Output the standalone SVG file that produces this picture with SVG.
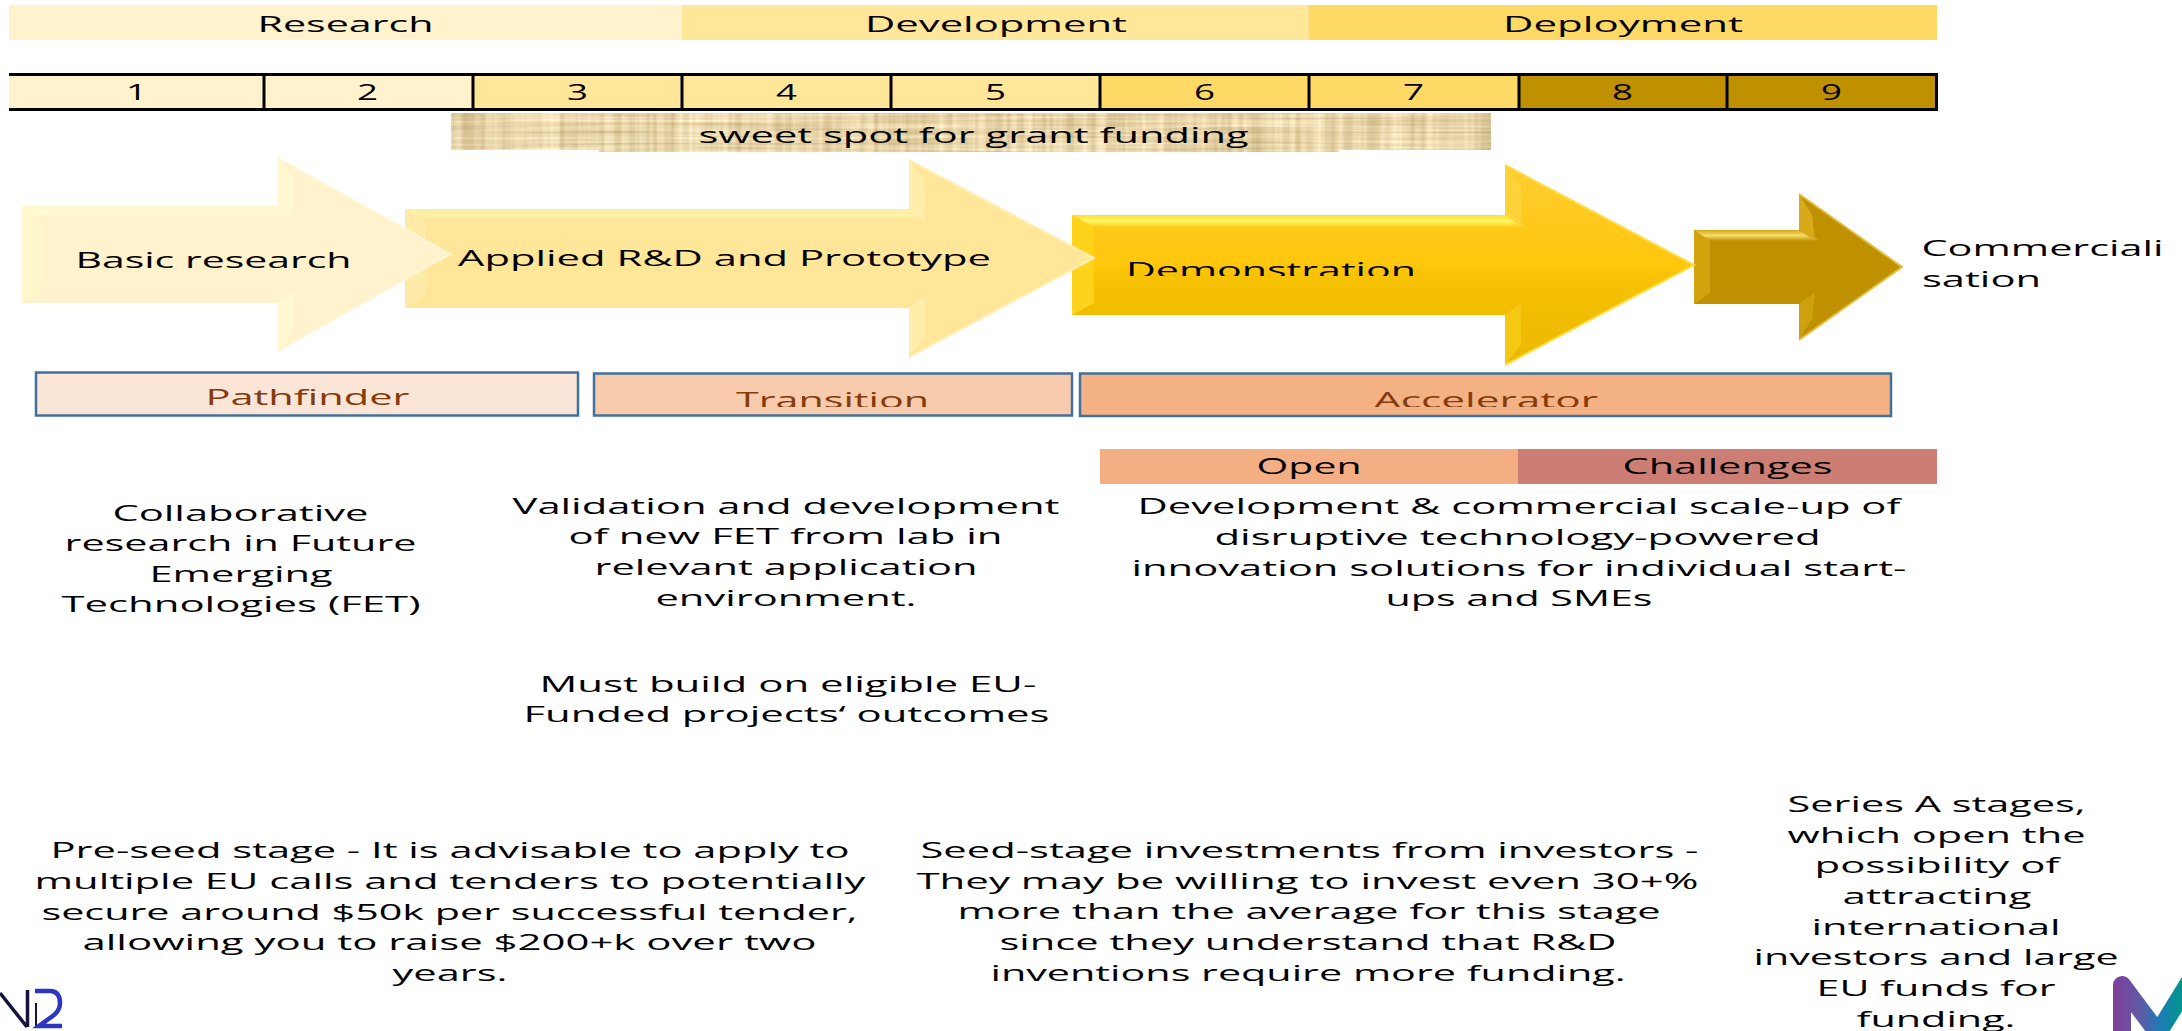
<svg xmlns="http://www.w3.org/2000/svg" width="2182" height="1031" viewBox="0 0 2182 1031">
<style>
text{font-family:"Open Sans","Noto Sans","Liberation Sans",sans-serif;font-size:21.5px;fill:#000}
.lb{fill:#843C0C;font-size:22.5px}
.c1{fill:#FFF2CC}.c2{fill:#FFE699}.c3{fill:#FFD966}.c4{fill:#BF9000}
.line{stroke:#000;stroke-width:3;fill:none}
.box{stroke:#41719C;stroke-width:2.5}
.e1{fill:none;stroke:#FFF6D8;stroke-width:2}
.e2{fill:none;stroke:#FFEFB4;stroke-width:2}
.e3{fill:none;stroke:#FFDD44;stroke-width:2}
.e4{fill:none;stroke:#E3BE3C;stroke-width:2}
</style>
<defs>
<filter id="papyrus" x="0" y="0" width="1" height="1" color-interpolation-filters="sRGB">
<feTurbulence type="fractalNoise" baseFrequency="0.14 0.004" numOctaves="2" seed="4" result="n1"/>
<feColorMatrix in="n1" values="1 0 0 0 0  1 0 0 0 0  1 0 0 0 0  0 0 0 0 1" result="v"/>
<feTurbulence type="fractalNoise" baseFrequency="0.006 0.35" numOctaves="2" seed="9" result="n2"/>
<feColorMatrix in="n2" values="1 0 0 0 0  1 0 0 0 0  1 0 0 0 0  0 0 0 0 1" result="h"/>
<feComposite in="v" in2="h" operator="arithmetic" k2="0.5" k3="0.5" result="m"/>
<feColorMatrix in="m" values="0.45 0 0 0 0.68  0.5 0 0 0 0.58  0.6 0 0 0 0.36  0 0 0 0 1"/>
<feComposite in2="SourceGraphic" operator="in"/>
</filter>
<linearGradient id="g3" x1="0" y1="0" x2="0" y2="1"><stop offset="0" stop-color="#FFCD33"/><stop offset="0.5" stop-color="#FFC70C"/><stop offset="0.55" stop-color="#F8C204"/><stop offset="1" stop-color="#E9B800"/></linearGradient>
<linearGradient id="t1" x1="0" y1="0" x2="0" y2="1"><stop offset="0" stop-color="#FFF5D0"/><stop offset="0.5" stop-color="#FFFBD2"/><stop offset="1" stop-color="#FFF2CC"/></linearGradient>
<linearGradient id="t2" x1="0" y1="0" x2="0" y2="1"><stop offset="0" stop-color="#FFEBA5"/><stop offset="0.5" stop-color="#FFF3A8"/><stop offset="1" stop-color="#FFE699"/></linearGradient>
<linearGradient id="t3" x1="0" y1="0" x2="0" y2="1"><stop offset="0" stop-color="#FFDB2E"/><stop offset="0.5" stop-color="#FFF868"/><stop offset="1" stop-color="#FFCE18"/></linearGradient>
<linearGradient id="t4" x1="0" y1="0" x2="0" y2="1"><stop offset="0" stop-color="#D5A715"/><stop offset="0.5" stop-color="#F5DC6C"/><stop offset="1" stop-color="#BF9000"/></linearGradient>
<linearGradient id="mg" gradientUnits="userSpaceOnUse" x1="2113" y1="0" x2="2182" y2="0"><stop offset="0" stop-color="#7F3F98"/><stop offset="0.4" stop-color="#5F5AA6"/><stop offset="0.7" stop-color="#1A7DB4"/><stop offset="1" stop-color="#009688"/></linearGradient>
<clipPath id="clipDemo"><rect x="1100" y="240" width="340" height="36"/></clipPath>
<clipPath id="clipBox"><rect x="700" y="380" width="920" height="27"/></clipPath>
</defs>

<g id="phase-research"><rect class="c1" x="9" y="5" width="673" height="35"/><text x="257.500" y="32" textLength="176" lengthAdjust="spacingAndGlyphs">Research</text></g>
<g id="phase-development"><rect class="c2" x="682" y="5" width="627" height="35"/><text x="865" y="32" textLength="262" lengthAdjust="spacingAndGlyphs">Development</text></g>
<g id="phase-deployment"><rect class="c3" x="1309" y="5" width="628" height="35"/><text x="1503" y="32" textLength="240" lengthAdjust="spacingAndGlyphs">Deployment</text></g>

<g id="trl-scale">
<rect class="c1" x="9" y="74" width="464" height="36"/>
<rect class="c2" x="473" y="74" width="627" height="36"/>
<rect class="c3" x="1100" y="74" width="419" height="36"/>
<rect class="c4" x="1519" y="74" width="418" height="36"/>
<path class="line" d="M9,74.500H1936.500V109.500H9M264,74V110M473,74V110M682,74V110M891,74V110M1100,74V110M1309,74V110M1519,74V110M1727,74V110"/>
<text x="126" y="100" textLength="21" lengthAdjust="spacingAndGlyphs">1</text>
<text x="357" y="100" textLength="21" lengthAdjust="spacingAndGlyphs">2</text>
<text x="567" y="100" textLength="21" lengthAdjust="spacingAndGlyphs">3</text>
<text x="776" y="100" textLength="21" lengthAdjust="spacingAndGlyphs">4</text>
<text x="985" y="100" textLength="21" lengthAdjust="spacingAndGlyphs">5</text>
<text x="1194" y="100" textLength="21" lengthAdjust="spacingAndGlyphs">6</text>
<text x="1403" y="100" textLength="21" lengthAdjust="spacingAndGlyphs">7</text>
<text x="1612" y="100" textLength="21" lengthAdjust="spacingAndGlyphs">8</text>
<text x="1821" y="100" textLength="21" lengthAdjust="spacingAndGlyphs">9</text>
</g>

<g id="sweet-spot">
<path filter="url(#papyrus)" fill="#000" d="M451,113H1491V150H1339V152H599V150H451Z"/>
<text x="698.500" y="143" textLength="550" lengthAdjust="spacingAndGlyphs">sweet spot for grant funding</text>
</g>

<g id="arrow-commercialisation">
<polygon class="c4" points="1694,230 1799,230 1799,194 1902,267 1799,340 1799,304 1694,304"/>
<polygon fill="#D2A30D" points="1694,230 1710,241 1710,293 1694,304"/>
<polygon fill="url(#t4)" points="1694,230 1799,230 1821,241 1710,241"/>
<polygon fill="#D6AA18" points="1799,194 1812,215 1815,241 1799,230"/>
<polygon fill="#CDA00E" points="1799,340 1812,319 1815,293 1799,304"/>
<polyline class="e4" points="1799,194 1902,267 1799,340"/>
</g>
<g id="arrow-demonstration">
<polygon fill="url(#g3)" points="1072,215 1505,215 1505,165 1694,265 1505,365 1505,315 1072,315"/>
<polygon fill="#FFD21C" points="1072,215 1094,227 1094,303 1072,315"/>
<polygon fill="url(#t3)" points="1072,215 1505,215 1527,227 1094,227"/>
<polygon fill="#FFD23A" points="1505,165 1521,185 1521,227 1505,215"/>
<polygon fill="#F5C814" points="1505,365 1521,345 1521,303 1505,315"/>
<polyline class="e3" points="1505,165 1694,265 1505,365"/>
<g clip-path="url(#clipDemo)"><text x="1126" y="278" textLength="290" lengthAdjust="spacingAndGlyphs">Demonstration</text></g>
</g>
<g id="arrow-applied">
<polygon class="c2" points="405,209 909,209 909,160 1094,258 909,357 909,308 405,308"/>
<polygon fill="#FFEBA8" points="405,209 425,221 425,296 405,308"/>
<polygon fill="url(#t2)" points="405,209 909,209 929,221 425,221"/>
<polygon fill="#FFEDAA" points="909,160 925,180 925,221 909,209"/>
<polygon fill="#FFEDAA" points="909,357 925,337 925,296 909,308"/>
<polyline class="e2" points="909,160 1094,258 909,357"/>
<text x="458" y="266" textLength="533" lengthAdjust="spacingAndGlyphs">Applied R&amp;D and Prototype</text>
</g>
<g id="arrow-basic">
<polygon class="c1" points="22,206 278,206 278,158 450,254 278,351 278,303 22,303"/>
<polygon fill="#FFF6CC" points="22,206 42,218 42,291 22,303"/>
<polygon fill="url(#t1)" points="22,206 278,206 298,218 42,218"/>
<polygon fill="#FFF7D0" points="278,158 294,178 294,218 278,206"/>
<polygon fill="#FFF7D0" points="278,351 294,331 294,291 278,303"/>
<polyline class="e1" points="278,158 450,254 278,351"/>
<text x="75.500" y="268" textLength="276" lengthAdjust="spacingAndGlyphs">Basic research</text>
</g>

<g id="box-pathfinder"><rect class="box" fill="#FBE5D6" x="36" y="372.500" width="542" height="43"/><text class="lb" x="205.500" y="405" textLength="204" lengthAdjust="spacingAndGlyphs">Pathfinder</text></g>
<g id="box-transition"><rect class="box" fill="#F8CBAD" x="594" y="373.500" width="478" height="42"/><g clip-path="url(#clipBox)"><text class="lb" x="736" y="407.500" textLength="193" lengthAdjust="spacingAndGlyphs">Transition</text></g></g>
<g id="box-accelerator"><rect class="box" fill="#F4B183" x="1080" y="373.500" width="811" height="42.500"/><g clip-path="url(#clipBox)"><text class="lb" x="1374" y="407.500" textLength="224" lengthAdjust="spacingAndGlyphs">Accelerator</text></g></g>

<g id="bar-open"><rect fill="#F4AE84" x="1100" y="449" width="418" height="35"/><text x="1256.500" y="474" textLength="105" lengthAdjust="spacingAndGlyphs">Open</text></g>
<g id="bar-challenges"><rect fill="#CC7D74" x="1518" y="449" width="419" height="35"/><text x="1622.500" y="474" textLength="210" lengthAdjust="spacingAndGlyphs">Challenges</text></g>

<g id="text-commercialisation">
<text x="1921.500" y="256" textLength="242" lengthAdjust="spacingAndGlyphs">Commerciali</text>
<text x="1922" y="287" textLength="119" lengthAdjust="spacingAndGlyphs">sation</text>
</g>

<g id="text-pathfinder">
<text x="112.500" y="521" textLength="256" lengthAdjust="spacingAndGlyphs">Collaborative</text>
<text x="64.500" y="551" textLength="352" lengthAdjust="spacingAndGlyphs">research in Future</text>
<text x="149.500" y="582" textLength="183" lengthAdjust="spacingAndGlyphs">Emerging</text>
<text x="61.500" y="612" textLength="359" lengthAdjust="spacingAndGlyphs">Technologies (FET)</text>
</g>
<g id="text-transition">
<text x="512.500" y="514" textLength="547" lengthAdjust="spacingAndGlyphs">Validation and development</text>
<text x="568.500" y="544" textLength="434" lengthAdjust="spacingAndGlyphs">of new FET from lab in</text>
<text x="594.500" y="575" textLength="383" lengthAdjust="spacingAndGlyphs">relevant application</text>
<text x="655.500" y="606" textLength="261" lengthAdjust="spacingAndGlyphs">environment.</text>
<text x="539.500" y="692" textLength="497" lengthAdjust="spacingAndGlyphs">Must build on eligible EU-</text>
<text x="523.500" y="722" textLength="526" lengthAdjust="spacingAndGlyphs">Funded projects‘ outcomes</text>
</g>
<g id="text-accelerator">
<text x="1137.500" y="514" textLength="763" lengthAdjust="spacingAndGlyphs">Development &amp; commercial scale-up of</text>
<text x="1214.500" y="545" textLength="606" lengthAdjust="spacingAndGlyphs">disruptive technology-powered</text>
<text x="1131.500" y="576" textLength="775" lengthAdjust="spacingAndGlyphs">innovation solutions for individual start-</text>
<text x="1385.500" y="606" textLength="267" lengthAdjust="spacingAndGlyphs">ups and SMEs</text>
</g>
<g id="text-preseed">
<text x="50.500" y="858" textLength="799" lengthAdjust="spacingAndGlyphs">Pre-seed stage - It is advisable to apply to</text>
<text x="34.500" y="889" textLength="831" lengthAdjust="spacingAndGlyphs">multiple EU calls and tenders to potentially</text>
<text x="41.500" y="920" textLength="816" lengthAdjust="spacingAndGlyphs">secure around $50k per successful tender,</text>
<text x="82.500" y="950" textLength="734" lengthAdjust="spacingAndGlyphs">allowing you to raise $200+k over two</text>
<text x="392.500" y="981" textLength="115" lengthAdjust="spacingAndGlyphs">years.</text>
</g>
<g id="text-seed">
<text x="920.500" y="858" textLength="778" lengthAdjust="spacingAndGlyphs">Seed-stage investments from investors -</text>
<text x="916.500" y="889" textLength="782" lengthAdjust="spacingAndGlyphs">They may be willing to invest even 30+%</text>
<text x="957.500" y="919" textLength="703" lengthAdjust="spacingAndGlyphs">more than the average for this stage</text>
<text x="999.500" y="950" textLength="617" lengthAdjust="spacingAndGlyphs">since they understand that R&amp;D</text>
<text x="990.500" y="981" textLength="635" lengthAdjust="spacingAndGlyphs">inventions require more funding.</text>
</g>

<g id="logo-n2">
<path d="M0,993L27,1027M27.500,990V1027" fill="none" stroke="#14143C" stroke-width="3.500"/>
<path d="M36,1003V1026" fill="none" stroke="#14143C" stroke-width="2"/>
<path d="M35,991H51Q60,992 60,1003Q60,1010 54,1015L39,1026H62" fill="none" stroke="#2E35C0" stroke-width="4.500"/>
</g>
<g id="logo-m">
<path d="M2122,1050V985L2158,1033L2192,978" fill="none" stroke="url(#mg)" stroke-width="18" stroke-linejoin="round"/>
</g>

<g id="text-series">
<text x="1787.500" y="812" textLength="298" lengthAdjust="spacingAndGlyphs">Series A stages,</text>
<text x="1787.500" y="843" textLength="298" lengthAdjust="spacingAndGlyphs">which open the</text>
<text x="1814.500" y="873" textLength="245" lengthAdjust="spacingAndGlyphs">possibility of</text>
<text x="1842.500" y="904" textLength="189" lengthAdjust="spacingAndGlyphs">attracting</text>
<text x="1811.500" y="935" textLength="249" lengthAdjust="spacingAndGlyphs">international</text>
<text x="1753.500" y="965" textLength="365" lengthAdjust="spacingAndGlyphs">investors and large</text>
<text x="1816.500" y="996" textLength="239" lengthAdjust="spacingAndGlyphs">EU funds for</text>
<text x="1856.500" y="1027" textLength="159" lengthAdjust="spacingAndGlyphs">funding.</text>
</g>
<g id="connectors"/>
</svg>
